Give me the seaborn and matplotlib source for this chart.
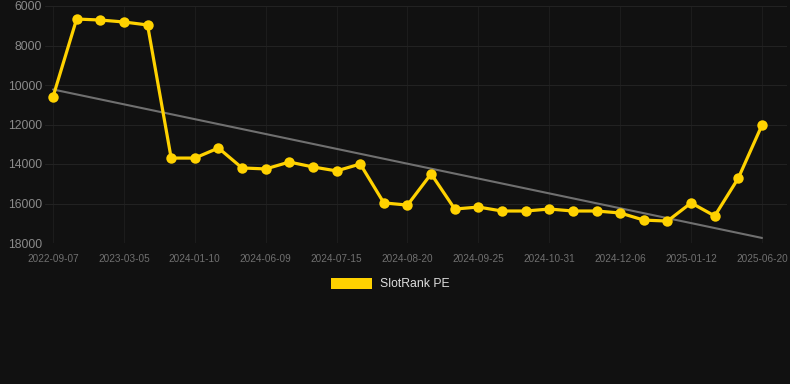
import numpy as np
import pandas as pd
import seaborn as sns
import matplotlib.pyplot as plt
from matplotlib.patches import Patch

# SlotRank values (lower is better, axis inverted)
rank_values = [10600, 6660, 6710, 6810, 6960, 13700, 13700, 13190, 14200, 14250,
               13900, 14150, 14350, 14000, 15970, 16080, 14500, 16280, 16180, 16380,
               16380, 16280, 16380, 16380, 16480, 16840, 16890, 15970, 16630, 14710,
               12030]
tick_labels = ['2022-09-07', '2023-03-05', '2024-01-10', '2024-06-09', '2024-07-15',
               '2024-08-20', '2024-09-25', '2024-10-31', '2024-12-06', '2025-01-12',
               '2025-06-20']
y_ticks = [6000, 8000, 10000, 12000, 14000, 16000, 18000]

df = pd.DataFrame({'idx': np.arange(len(rank_values)), 'rank': rank_values})

# Linear trend over the whole series
slope, intercept = np.polyfit(df['idx'], df['rank'], 1)
df['trend'] = intercept + slope * df['idx']

sns.set_style('dark')
plt.rcParams['font.family'] = ['Liberation Sans', 'DejaVu Sans']

bg = '#111111'
yellow = '#FFD200'

fig = plt.figure(figsize=(7.9, 3.84), dpi=100, facecolor=bg)
ax = fig.add_axes([45 / 790, 141 / 384, 742 / 790, 237 / 384])
ax.set_facecolor(bg)

sns.lineplot(data=df, x='idx', y='trend', ax=ax, color='#707070', linewidth=1.5, zorder=2)
sns.lineplot(data=df, x='idx', y='rank', ax=ax, color=yellow, linewidth=2.3,
             marker='o', markersize=7.5, markeredgewidth=0, zorder=3)

ax.set_xlim(-8 / 23.63, 30 + 25 / 23.63)
ax.set_ylim(18000, 6000)
ax.set_yticks(y_ticks)
ax.set_yticklabels([str(v) for v in y_ticks])
ax.set_xticks(np.arange(0, len(rank_values), 3))
ax.set_xticklabels(tick_labels)
ax.set_xlabel('')
ax.set_ylabel('')

ax.grid(True, axis='y', color='#222222', linewidth=0.8)
ax.grid(True, axis='x', color='#1c1c1c', linewidth=0.8)
for s in ax.spines.values():
    s.set_visible(False)
ax.tick_params(axis='y', colors='#8a8a8a', labelsize=8.7, length=0, pad=2)
ax.tick_params(axis='x', colors='#707070', labelsize=7.2, length=4, width=0.8, pad=4)
for t in ax.get_xticklines():
    t.set_color('#222222')

fig.legend(handles=[Patch(facecolor=yellow, edgecolor='none', label='SlotRank PE')],
           loc='center', bbox_to_anchor=(390 / 790, 1 - 284 / 384), frameon=False,
           handlelength=3.4, handleheight=1.0, handletextpad=0.6,
           prop={'size': 8.8}, labelcolor='#dddddd')

fig.savefig('out.png', dpi=100, facecolor=bg)
